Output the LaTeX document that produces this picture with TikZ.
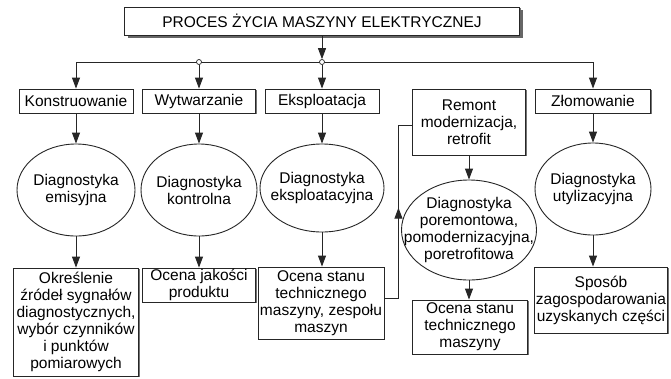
\documentclass[tikz,border=0pt]{standalone}
\usepackage{fontspec}
\setmainfont{Liberation Sans}
\usetikzlibrary{arrows.meta,shadows,shapes.geometric,decorations.markings}
\begin{document}
\begin{tikzpicture}[x=1pt,y=-1pt,
  txt/.style={font=\fontsize{15.5}{17}\selectfont, align=center, inner sep=0pt},
  box/.style={txt, draw=black!85, line width=0.9pt, fill=white,
    drop shadow={shadow xshift=1.3pt, shadow yshift=-1.3pt, fill=black!55, opacity=1}},
  bigbox/.style={box, drop shadow={shadow xshift=3pt, shadow yshift=-3pt, fill=black!60, opacity=1}},
  oval/.style={ellipse, draw=black!85, line width=0.9pt, inner sep=0pt},
  wire/.style={draw=black!85, line width=0.9pt},
  link/.style={wire, -{Triangle[length=11pt,width=8pt]}},
  joint/.style={circle, draw=black!85, fill=white, line width=0.7pt, minimum size=5pt, inner sep=0pt},
  uparrow/.style={decoration={markings, mark=at position 0.52 with {\arrow{Triangle[length=11pt,width=8pt]}}}, postaction={decorate}}]

\fill[white] (0,0) rectangle (671,378);
\useasboundingbox (0,0) rectangle (671,378);

% title
\node[bigbox, minimum width=395pt, minimum height=28pt] (top) at (322,21) {PROCES ŻYCIA MASZYNY ELEKTRYCZNEJ};

% stages
\node[box, minimum width=114pt, minimum height=24pt] (kon) at (76,101) {Konstruowanie};
\node[box, minimum width=113pt, minimum height=24pt] (wyt) at (199,101) {Wytwarzanie};
\node[box, minimum width=114pt, minimum height=24pt] (eks) at (322,101) {Eksploatacja};
\node[box, minimum width=113pt, minimum height=66pt] (rem) at (469,122) {Remont\\modernizacja,\\retrofit};
\node[box, minimum width=115pt, minimum height=24pt] (zlo) at (593,101) {Złomowanie};

% bus
\coordinate (b1) at (76,62);
\coordinate (b4) at (593,62);
\draw[wire] (b1) -- (b4);
\node[joint] (j1) at (199,62) {};
\node[joint] (j2) at (322,62) {};

\draw[link] (top) -- (j2);
\draw[link] (b1) -- (kon);
\draw[link] (j1) -- (wyt);
\draw[link] (j2) -- (eks);
\draw[link] (b4) -- (zlo);

% diagnostics
\node[oval, minimum width=118pt, minimum height=92pt] (e1) at (76,190) {};
\node[txt] (t1) at (e1.center) {Diagnostyka\\emisyjna};
\node[oval, minimum width=116pt, minimum height=92pt] (e2) at (199,190) {};
\node[txt] (t2) at (e2.center) {Diagnostyka\\kontrolna};
\node[oval, minimum width=124pt, minimum height=88pt] (e3) at (322,188) {};
\node[txt] (t3) at (e3.center) {Diagnostyka\\eksploatacyjna};
\node[oval, minimum width=135pt, minimum height=100pt] (e4) at (469,230) {};
\node[txt] (t4) at (e4.center) {Diagnostyka\\poremontowa,\\pomodernizacyjna,\\poretrofitowa};
\node[oval, minimum width=116pt, minimum height=92pt] (e5) at (593,189) {};
\node[txt] (t5) at (e5.center) {Diagnostyka\\utylizacyjna};

\draw[link] (kon) -- (e1);
\draw[link] (wyt) -- (e2);
\draw[link] (eks) -- (e3);
\draw[link] (rem) -- (e4);
\draw[link] (zlo) -- (e5);

% results
\node[box, minimum width=125pt, minimum height=108pt] (o1) at (76,322) {Określenie\\źródeł sygnałów\\diagnostycznych,\\wybór czynników\\i punktów\\pomiarowych};
\node[box, minimum width=113pt, minimum height=34pt] (o2) at (199,285) {Ocena jakości\\produktu};
\node[box, minimum width=126pt, minimum height=72pt] (o3) at (321,303) {Ocena stanu\\technicznego\\maszyny, zespołu\\maszyn};
\node[box, minimum width=115pt, minimum height=54pt] (o4) at (470,327) {Ocena stanu\\technicznego\\maszyny};
\node[box, minimum width=133pt, minimum height=66pt] (o5) at (601,300) {Sposób\\zagospodarowania\\uzyskanych części};

\draw[link] (e1) -- (o1);
\draw[link] (e2) -- (o2);
\draw[link] (e3.south) -- (e3.south |- o3.north);
\draw[link] (e4.south) -- (e4.south |- o4.north);
\draw[link] (e5.south) -- (e5.south |- o5.north);

% return path from operation to repair
\draw[wire, uparrow] ([yshift=5pt]o3.east) -- ++(14,0) |- ([yshift=-3pt]rem.west);
\end{tikzpicture}
\end{document}
